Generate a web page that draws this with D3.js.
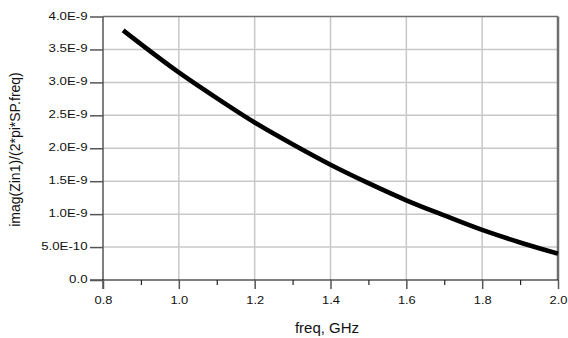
<!DOCTYPE html>
<html><head><meta charset="utf-8">
<script src="https://cdn.jsdelivr.net/npm/d3@7"></script>
<style>body{margin:0;background:#fff}svg{display:block}text{font-family:"Liberation Sans",Arial,sans-serif;fill:#111}</style>
</head><body><svg id="c" width="568" height="338"></svg>
<script>
const freq = [0.853, 0.9, 1.0, 1.1, 1.2, 1.3, 1.4, 1.5, 1.6, 1.7, 1.8, 1.9, 2.0];
const values = [3.79e-9, 3.58e-9, 3.15e-9, 2.76e-9, 2.39e-9, 2.06e-9, 1.75e-9, 1.47e-9, 1.21e-9, 0.98e-9, 0.76e-9, 0.57e-9, 0.40e-9];
const xTicks = [0.8, 1.0, 1.2, 1.4, 1.6, 1.8, 2.0];
const xMinor = [0.9, 1.1, 1.3, 1.5, 1.7, 1.9];
const yTicks = [0, 0.5e-9, 1.0e-9, 1.5e-9, 2.0e-9, 2.5e-9, 3.0e-9, 3.5e-9, 4.0e-9];
const yTickLabels = ["0.0", "5.0E-10", "1.0E-9", "1.5E-9", "2.0E-9", "2.5E-9", "3.0E-9", "3.5E-9", "4.0E-9"];
const xTitle = "freq, GHz";
const yTitle = "imag(Zin1)/(2*pi*SP.freq)";

const svg = d3.select("#c");
const L = 103, R = 558, T = 16.5, B = 280;
const x = d3.scaleLinear().domain([0.8, 2.0]).range([L, R]);
const y = d3.scaleLinear().domain([0, 4e-9]).range([B, T]);
const FONT = "Liberation Sans, Arial, sans-serif";

function stretch(sel, k) {
  sel.each(function () {
    const w = this.getComputedTextLength();
    d3.select(this).attr("textLength", w * k).attr("lengthAdjust", "spacingAndGlyphs");
  });
}

// grid
svg.append("g").selectAll("line").data(xTicks.slice(1, -1)).join("line")
  .attr("x1", d => x(d)).attr("x2", d => x(d)).attr("y1", T).attr("y2", B)
  .attr("stroke", "#c8c8c8").attr("stroke-width", 1.5);
svg.append("g").selectAll("line").data(yTicks.slice(1, -1)).join("line")
  .attr("x1", L).attr("x2", R).attr("y1", d => y(d)).attr("y2", d => y(d))
  .attr("stroke", "#c8c8c8").attr("stroke-width", 1.5);

// frame
svg.append("line").attr("x1", L).attr("x2", R).attr("y1", T).attr("y2", T).attr("stroke", "#6e6e6e").attr("stroke-width", 1.5);
svg.append("line").attr("x1", R).attr("x2", R).attr("y1", T).attr("y2", B).attr("stroke", "#6e6e6e").attr("stroke-width", 2.5);
svg.append("line").attr("x1", L).attr("x2", L).attr("y1", T).attr("y2", B + 9).attr("stroke", "#555").attr("stroke-width", 1.5);

// x axis
const xAxis = d3.axisBottom(x).tickValues(xTicks).tickFormat(d3.format(".1f")).tickSize(9).tickPadding(7);
const gx = svg.append("g").attr("transform", `translate(0,${B})`).call(xAxis);
gx.select(".domain").attr("stroke", "#000").attr("stroke-width", 1.2).attr("d", `M${L - 13},0H${R}`);
gx.selectAll(".tick line").attr("stroke", "#555").attr("stroke-width", 1.5);
gx.selectAll(".tick text").attr("font-size", 11.5).attr("font-family", FONT).attr("fill", "#111").call(stretch, 1.12);
const gxm = svg.append("g").attr("transform", `translate(0,${B})`).call(d3.axisBottom(x).tickValues(xMinor).tickFormat("").tickSize(5));
gxm.select(".domain").remove();
gxm.selectAll(".tick line").attr("stroke", "#222").attr("stroke-width", 1.2);

// y axis
const yAxis = d3.axisLeft(y).tickValues(yTicks).tickFormat((d, i) => yTickLabels[i]).tickSize(13).tickPadding(2.5);
const gy = svg.append("g").attr("transform", `translate(${L},0)`).call(yAxis);
gy.select(".domain").remove();
gy.selectAll(".tick line").attr("stroke", "#555").attr("stroke-width", 1.5);
gy.selectAll(".tick text").attr("font-size", 11.5).attr("font-family", FONT).attr("fill", "#111").attr("dy", "0.22em").call(stretch, 1.15);

// curve
svg.append("path").datum(freq.map((f, i) => [f, values[i]]))
  .attr("d", d3.line().x(d => x(d[0])).y(d => y(d[1])).curve(d3.curveMonotoneX))
  .attr("fill", "none").attr("stroke", "#000").attr("stroke-width", 4.6);

// titles
svg.append("text").attr("x", 327).attr("y", 332.5).attr("text-anchor", "middle").attr("font-size", 15).text(xTitle);
svg.append("text").attr("transform", `translate(20,149.5) rotate(-90)`).attr("text-anchor", "middle").attr("font-size", 14).text(yTitle);
</script></body></html>
